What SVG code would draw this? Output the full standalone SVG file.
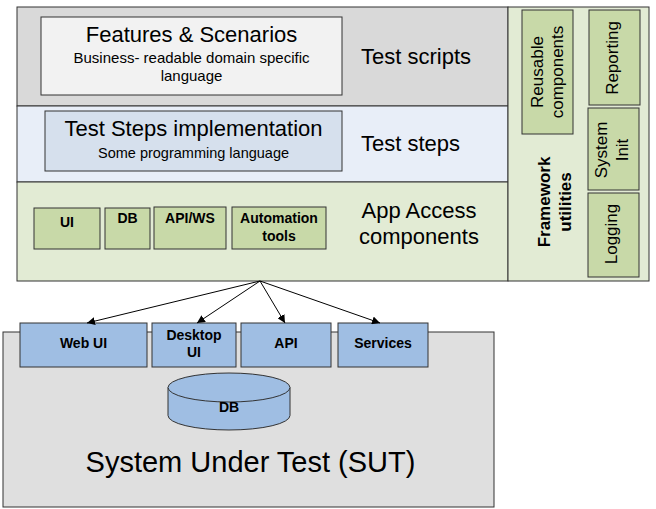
<svg xmlns="http://www.w3.org/2000/svg" width="656" height="509" viewBox="0 0 656 509">
<defs>
<style>
text{font-family:"Liberation Sans",Arial,sans-serif;fill:#000}
.big{font-size:22px}
.sub{font-size:15px}
.b{font-size:14px;font-weight:bold}
.rot{font-size:17px}
.box{stroke:#333;stroke-width:1}
.green{fill:#c8d9a8}
.blue{fill:#9fbee3}
.conn{stroke:#000;stroke-width:1;fill:none;marker-end:url(#arr)}
</style>
<marker id="arr" viewBox="0 0 10 10" refX="10" refY="5" markerWidth="8" markerHeight="8" markerUnits="userSpaceOnUse" orient="auto">
<path d="M0,0 L10,5 L0,10 z" fill="#000"/>
</marker>
</defs>
<rect width="656" height="509" fill="#fff"/>

<g id="test-scripts">
<rect x="17" y="7" width="491" height="99" fill="#d9d9d9" class="box"/>
<text class="big" x="361" y="64">Test scripts</text>
</g>
<g id="features">
<rect x="41" y="17" width="301" height="78" fill="#f2f2f2" class="box"/>
<text class="big" x="191.5" y="42" text-anchor="middle">Features &amp; Scenarios</text>
<text class="sub" x="191.5" y="63" text-anchor="middle">Business- readable domain specific</text>
<text class="sub" x="191.5" y="81" text-anchor="middle">language</text>
</g>

<g id="test-steps">
<rect x="17" y="106" width="491" height="76" fill="#e8eef8" class="box"/>
<text class="big" x="361" y="151">Test steps</text>
</g>
<g id="steps-impl">
<rect x="45" y="111" width="297" height="60" fill="#d6e0ed" class="box"/>
<text class="big" x="193.5" y="136" text-anchor="middle">Test Steps implementation</text>
<text class="sub" x="193.5" y="158" text-anchor="middle" style="font-size:14.5px">Some programming language</text>
</g>

<g id="app-access">
<rect x="17" y="182" width="491" height="99" fill="#e2ebd4" class="box"/>
<text class="big" x="419" y="218" text-anchor="middle">App Access</text>
<text class="big" x="419" y="244" text-anchor="middle">components</text>
</g>
<g id="ui">
<rect x="34" y="208" width="66" height="41" class="box green"/>
<text class="b" x="67" y="227" text-anchor="middle">UI</text>
</g>
<g id="db-access">
<rect x="105" y="208" width="45" height="41" class="box green"/>
<text class="b" x="127.5" y="223" text-anchor="middle">DB</text>
</g>
<g id="apiws">
<rect x="154" y="207" width="72" height="42" class="box green"/>
<text class="b" x="190" y="223" text-anchor="middle">API/WS</text>
</g>
<g id="automation">
<rect x="232" y="207" width="94" height="42" class="box green"/>
<text class="b" x="279" y="223" text-anchor="middle">Automation</text>
<text class="b" x="279" y="241" text-anchor="middle">tools</text>
</g>

<g id="framework">
<rect x="508" y="7" width="141" height="274" fill="#e2ebd4" class="box"/>
<g transform="translate(550 202) rotate(-90)">
<text class="rot" style="font-weight:bold" x="0" y="0" text-anchor="middle">Framework</text>
<text class="rot" style="font-weight:bold" x="0" y="21" text-anchor="middle">utilities</text>
</g>
</g>
<g id="reusable">
<rect x="522" y="10" width="51" height="124" class="box green"/>
<g transform="translate(543 72) rotate(-90)">
<text class="rot" x="0" y="0" text-anchor="middle">Reusable</text>
<text class="rot" x="0" y="20" text-anchor="middle">components</text>
</g>
</g>
<g id="reporting">
<rect x="589" y="10" width="51" height="95" class="box green"/>
<text class="rot" transform="translate(618 58) rotate(-90)" text-anchor="middle">Reporting</text>
</g>
<g id="system-init">
<rect x="588" y="108" width="51" height="82" class="box green"/>
<g transform="translate(607 150) rotate(-90)">
<text class="rot" x="0" y="0" text-anchor="middle">System</text>
<text class="rot" x="0" y="21" text-anchor="middle">Init</text>
</g>
</g>
<g id="logging">
<rect x="588" y="193" width="51" height="84" class="box green"/>
<text class="rot" transform="translate(617 234) rotate(-90)" text-anchor="middle">Logging</text>
</g>

<g id="sut">
<rect x="3" y="332" width="491" height="175" fill="#dfdfdf" class="box"/>
<text x="250.5" y="472" text-anchor="middle" style="font-size:29px">System Under Test (SUT)</text>
</g>
<g id="web-ui">
<rect x="20" y="323" width="127" height="44" class="box blue"/>
<text class="b" x="83.5" y="348" text-anchor="middle">Web UI</text>
</g>
<g id="desktop-ui">
<rect x="152" y="323" width="84" height="44" class="box blue"/>
<text class="b" x="194" y="340" text-anchor="middle">Desktop</text>
<text class="b" x="194" y="357" text-anchor="middle">UI</text>
</g>
<g id="api">
<rect x="241" y="323" width="90" height="44" class="box blue"/>
<text class="b" x="286" y="348" text-anchor="middle">API</text>
</g>
<g id="services">
<rect x="338" y="323" width="90" height="44" class="box blue"/>
<text class="b" x="383" y="348" text-anchor="middle">Services</text>
</g>
<g id="db">
<path d="M168,387.5 L168,415.5 A61,14.5 0 0 0 290,415.5 L290,387.5" class="box blue"/>
<ellipse cx="229" cy="387.5" rx="61" ry="14.5" class="box blue"/>
<text class="b" x="229" y="412" text-anchor="middle">DB</text>
</g>

<g id="connectors">
<line x1="260" y1="281" x2="87" y2="323" class="conn"/>
<line x1="260" y1="281" x2="197" y2="323" class="conn"/>
<line x1="260" y1="281" x2="285" y2="323" class="conn"/>
<line x1="260" y1="281" x2="380" y2="323" class="conn"/>
</g>
</svg>
